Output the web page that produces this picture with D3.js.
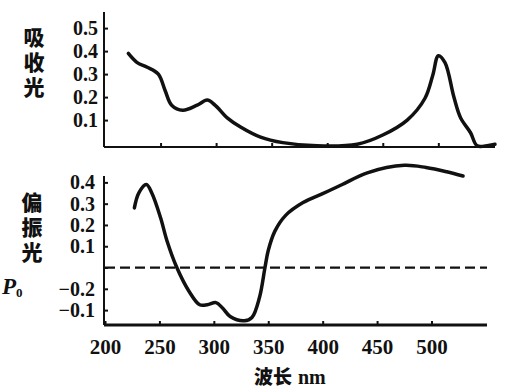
<!DOCTYPE html>
<meta charset="utf-8">
<style>
body { margin: 0; background: #fff; }
svg { display: block; }
.num { font-family: "Liberation Serif", "DejaVu Serif", serif; font-weight: bold; fill: #111; }
.cjk { font-family: "Noto Sans CJK SC", sans-serif; font-weight: 900; fill: #111; }
.vert { writing-mode: vertical-rl; letter-spacing: 4px; }
.axis path, .axis line { stroke: #111; stroke-width: 2; fill: none; }
.curve { fill: none; stroke: #111; stroke-width: 3.5; stroke-linejoin: round; stroke-linecap: round; }
</style>
<body>
<script src="https://cdn.jsdelivr.net/npm/d3@7"></script>
<script>
// absorption spectrum (top panel)
var absWl  = [221, 229, 238, 248, 254, 260, 270, 283, 292, 299, 310, 322, 340, 360, 391, 427, 450, 472, 488, 495, 500, 506, 514, 520, 529, 535, 545, 551];
var absVal = [0.39, 0.35, 0.33, 0.30, 0.23, 0.165, 0.143, 0.165, 0.187, 0.165, 0.11, 0.07, 0.026, 0.002, -0.012, -0.005, 0.035, 0.10, 0.195, 0.295, 0.38, 0.35, 0.20, 0.11, 0.045, -0.012, -0.01, -0.005];

// polarization curve (bottom panel)
var polWl  = [227, 231, 238, 243, 251, 257, 266, 277, 287, 294, 302, 308, 315, 328, 335, 342, 347, 350, 356, 366, 382, 400, 418, 441, 475, 495, 514, 529];
var polVal = [0.28, 0.35, 0.39, 0.35, 0.235, 0.125, 0.0, -0.11, -0.175, -0.175, -0.165, -0.19, -0.23, -0.25, -0.235, -0.14, 0.0, 0.08, 0.17, 0.245, 0.305, 0.347, 0.39, 0.445, 0.48, 0.47, 0.45, 0.43];
var p0 = 0;

var xTicks = [200, 250, 300, 350, 400, 450, 500];
var absTicks = [0.1, 0.2, 0.3, 0.4, 0.5];
var polTicks = [0.4, 0.3, 0.2, 0.1, 0, -0.1, -0.2];
var polTickLabels = ["0.4", "0.3", "0.2", "0.1", "", "\u22120.2", "\u22120.1"];

var svg = d3.select("body").append("svg")
  .attr("width", 511)
  .attr("height", 390);

var x = d3.scaleLinear().domain([200, 551]).range([105, 495]);
var xb = d3.scaleLinear().domain([200, 551]).range([105, 487]);
var yTop = d3.scaleLinear().domain([-0.017, 0.57]).range([147, 12]);
var yBot = d3.scaleLinear().domain([-0.27, 0.43]).range([325, 176]);

// top panel axes
svg.append("g").attr("class", "axis")
  .attr("transform", "translate(104,0)")
  .call(d3.axisLeft(yTop).tickValues(absTicks).tickSize(-4).tickPadding(6).tickFormat(d3.format(".1f")))
  .call(function(g) {
    g.select(".domain").attr("d", "M0," + yTop(0.57) + "V" + yTop(-0.017));
    g.selectAll("text").attr("class", "num").style("font-size", "20px");
  });

svg.append("g").attr("class", "axis")
  .attr("transform", "translate(0," + yTop(-0.017) + ")")
  .call(d3.axisBottom(x).tickValues(xTicks.slice(1)).tickSize(-4).tickFormat(""))
  .call(function(g) {
    g.select(".domain").attr("d", "M104,0H" + x(551));
  });

svg.append("path").attr("class", "curve")
  .datum(d3.zip(absWl, absVal))
  .attr("d", d3.line()
    .x(function(d) { return x(d[0]); })
    .y(function(d) { return yTop(d[1]); })
    .curve(d3.curveCatmullRom));

// bottom panel axes
svg.append("g").attr("class", "axis")
  .attr("transform", "translate(104,0)")
  .call(d3.axisLeft(yBot).tickValues(polTicks).tickSize(-4).tickPadding(9)
    .tickFormat(function(d, i) { return polTickLabels[i]; }))
  .call(function(g) {
    g.select(".domain").attr("d", "M0," + yBot(0.43) + "V" + yBot(-0.27));
    g.selectAll("text").attr("class", "num").style("font-size", "20px");
  });

svg.append("g").attr("class", "axis")
  .attr("transform", "translate(0," + yBot(-0.27) + ")")
  .call(d3.axisBottom(xb).tickValues(xTicks).tickSize(-4).tickPadding(14))
  .call(function(g) {
    g.select(".domain").attr("d", "M104,0H" + xb(551)).style("stroke-width", 3);
    g.selectAll("text").attr("class", "num").style("font-size", "21px");
  });

// P0 reference line
svg.append("line")
  .attr("x1", xb(200)).attr("x2", xb(551))
  .attr("y1", yBot(p0)).attr("y2", yBot(p0))
  .attr("stroke", "#111").attr("stroke-width", 2.2)
  .attr("stroke-dasharray", "10,5");

svg.append("path").attr("class", "curve")
  .datum(d3.zip(polWl, polVal))
  .attr("d", d3.line()
    .x(function(d) { return xb(d[0]); })
    .y(function(d) { return yBot(d[1]); })
    .curve(d3.curveCatmullRom));

// axis titles (vertical text)
svg.append("text")
  .attr("class", "cjk vert")
  .attr("x", 34).attr("y", 27)
  .style("font-size", "21px")
  .text("吸收光");

svg.append("text")
  .attr("class", "cjk vert")
  .attr("x", 32).attr("y", 192)
  .style("font-size", "21px")
  .text("偏振光");

var p0t = svg.append("text").attr("class", "num")
  .attr("x", 2).attr("y", 294)
  .style("font-size", "23px").style("font-style", "italic");
p0t.append("tspan").text("P");
p0t.append("tspan").attr("dy", 3).style("font-size", "13px").style("font-style", "normal").text("0");

svg.append("text").attr("class", "cjk")
  .attr("x", 273).attr("y", 384)
  .attr("text-anchor", "middle")
  .style("font-size", "19px")
  .text("波长");
svg.append("text").attr("class", "num")
  .attr("x", 298).attr("y", 384)
  .style("font-size", "20px")
  .text("nm");
</script>
